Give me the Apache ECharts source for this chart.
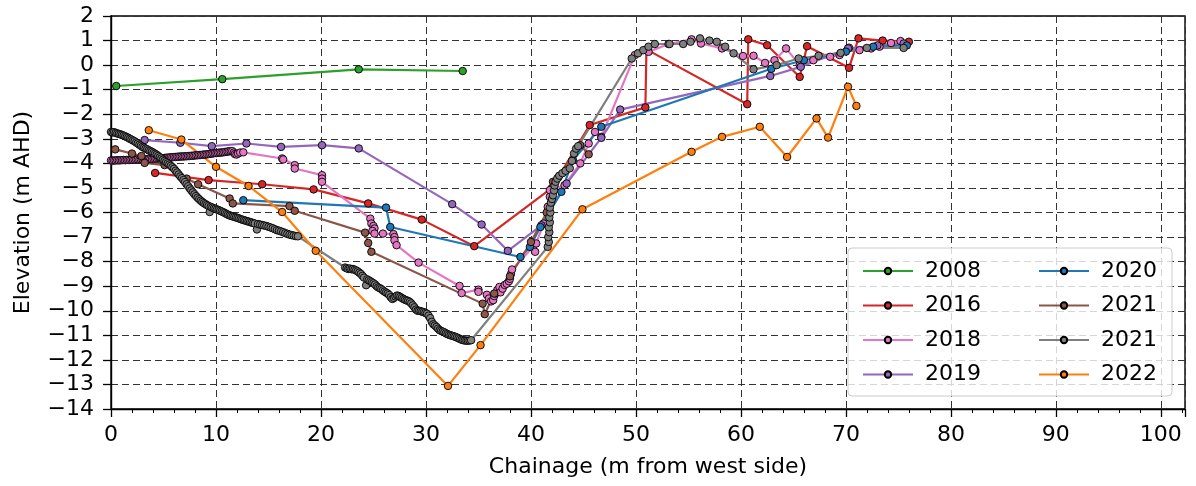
<!DOCTYPE html>
<html>
<head>
<meta charset="utf-8">
<script src="https://cdn.jsdelivr.net/npm/echarts@6/dist/echarts.min.js"></script>
<style>
  html, body { margin: 0; padding: 0; background: #fff; }
  #chart { width: 1196px; height: 486px; }
</style>
</head>
<body>
<div id="chart"></div>
<script>
// Cross-section surveys: [chainage (m from west side), elevation (m AHD)]
const survey2008 = [[0.5,-0.85],[10.6,-0.57],[23.6,-0.17],[33.5,-0.24]];

const survey2016 = [[4.2,-4.39],[9.3,-4.68],[14.4,-4.85],[19.3,-5.06],[24.5,-5.63],[29.6,-6.29],[34.6,-7.37],
  [42.0,-5.0],[45.6,-2.44],[50.9,-1.72],[51.0,0.64],[60.6,-1.59],[60.7,1.05],[62.5,0.81],[65.6,-0.48],
  [66.3,0.77],[70.3,-0.11],[71.2,1.09],[73.5,1.0],[76.0,0.95]];

const survey2018 = [[0.0,-3.88],[0.15,-3.89],[0.3,-3.88],[0.45,-3.88],[0.6,-3.87],[0.75,-3.88],[0.9,-3.87],
  [1.05,-3.87],[1.2,-3.86],[1.35,-3.87],[1.5,-3.86],[1.65,-3.86],[1.8,-3.86],[1.95,-3.85],[2.1,-3.86],
  [2.25,-3.85],[2.4,-3.85],[2.55,-3.84],[2.7,-3.85],[2.85,-3.84],[3.0,-3.84],[3.15,-3.83],[3.3,-3.84],
  [3.45,-3.83],[3.6,-3.83],[3.75,-3.82],[3.9,-3.83],[4.05,-3.82],[4.2,-3.81],[4.35,-3.81],[4.5,-3.8],
  [4.65,-3.8],[4.8,-3.79],[4.95,-3.79],[5.1,-3.78],[5.25,-3.77],[5.4,-3.77],[5.55,-3.76],[5.7,-3.75],
  [5.85,-3.75],[6.0,-3.74],[6.15,-3.74],[6.3,-3.73],[6.45,-3.73],[6.6,-3.72],[6.75,-3.72],[6.9,-3.72],
  [7.05,-3.71],[7.2,-3.71],[7.35,-3.7],[7.5,-3.7],[7.65,-3.69],[7.8,-3.69],[7.95,-3.68],[8.1,-3.67],
  [8.25,-3.67],[8.4,-3.66],[8.55,-3.66],[8.7,-3.65],[8.85,-3.64],[9.0,-3.64],[9.15,-3.63],[9.3,-3.62],
  [9.45,-3.61],[9.6,-3.6],[9.75,-3.59],[9.9,-3.58],[10.05,-3.58],[10.2,-3.57],[10.35,-3.56],[10.5,-3.56],
  [10.65,-3.55],[10.8,-3.54],[10.95,-3.53],[11.1,-3.52],[11.25,-3.51],[11.4,-3.5],[11.55,-3.5],[11.7,-3.56],
  [11.8,-3.62],[11.95,-3.64],[12.1,-3.6],[12.3,-3.56],[12.6,-3.55],
  [16.3,-3.8],[16.4,-3.84],[17.5,-4.07],[17.5,-4.21],[20.1,-4.48],[20.1,-4.62],[20.1,-4.75],
  [24.7,-6.25],[24.8,-6.45],[25.0,-6.55],[25.1,-6.65],[24.9,-6.75],[25.1,-6.86],[25.9,-6.86],[26.9,-6.88],
  [27.0,-7.0],[27.0,-7.13],[27.2,-7.33],[29.3,-8.04],[33.2,-8.99],[33.4,-9.28],[35.0,-9.14],[35.0,-9.23],
  [35.8,-9.35],[36.0,-9.5],[36.2,-9.62],[36.4,-9.57],[36.5,-9.4],[36.6,-9.3],[36.8,-9.15],[37.0,-9.03],
  [37.1,-9.25],[37.3,-9.1],[37.5,-8.95],[37.7,-8.9],[37.9,-8.8],[38.0,-8.7],[38.1,-8.5],[38.2,-8.32],
  [40.2,-7.4],[40.4,-7.6],[40.5,-7.26],[41.2,-6.45],[41.6,-5.77],[41.8,-5.36],[41.8,-5.09],[43.2,-4.89],
  [44.7,-4.0],[45.5,-3.19],[46.1,-2.72],[46.7,-2.92],[49.9,0.41],[51.2,0.54],[53.1,0.86],[55.3,1.05],
  [56.2,0.88],[58.2,0.68],[60.2,0.37],[61.2,0.38],[62.3,0.09],[63.2,0.2],[64.3,0.68],[65.6,0.0],[66.9,0.2],
  [68.5,0.34],[69.4,0.41],[70.3,0.71],[71.3,0.61],[72.4,0.68],[73.2,0.75],[74.3,0.9],[75.2,0.98]];

const survey2019 = [[3.2,-3.05],[6.6,-3.16],[9.6,-3.3],[12.9,-3.19],[16.2,-3.33],[20.1,-3.26],[23.6,-3.39],
  [32.5,-5.66],[35.3,-6.49],[37.8,-7.56],[41.0,-6.52],[43.4,-4.82],[46.7,-2.96],[48.5,-1.81],[62.8,-0.44],
  [65.7,-0.07],[70.2,0.68],[73.0,0.8],[75.5,0.88]];

const survey2020 = [[12.6,-5.5],[26.2,-5.8],[26.6,-6.59],[39.0,-7.81],[39.9,-7.4],[40.9,-6.59],[42.9,-5.16],
  [44.0,-3.87],[46.7,-2.51],[62.9,-0.15],[66.0,0.2],[70.0,0.55],[72.6,0.75],[75.8,0.8]];

const survey2021a = [[0.4,-3.43],[2.0,-3.6],[2.9,-3.7],[3.2,-3.98],[5.1,-4.07],[7.2,-4.62],[8.3,-4.85],
  [11.3,-5.43],[11.6,-5.63],[17.0,-5.74],[17.5,-5.93],[24.2,-6.82],[24.5,-7.24],[24.8,-7.6],[35.4,-9.71],
  [35.6,-10.14],[36.5,-9.3],[38.0,-8.6],[40.0,-7.2],[41.5,-6.0],[42.1,-4.75],[42.6,-4.57],[44.7,-3.26],[45.5,-3.63]];

const survey2021b = [[0.0,-2.72],[0.15,-2.74],[0.3,-2.73],[0.45,-2.76],[0.6,-2.78],[0.75,-2.8],[0.9,-2.82],
  [1.05,-2.84],[1.2,-2.87],[1.35,-2.9],[1.5,-2.93],[1.65,-2.96],[1.8,-3.0],[1.95,-3.03],[2.1,-3.07],[2.25,-3.1],
  [2.4,-3.15],[2.55,-3.19],[2.7,-3.24],[2.85,-3.28],[3.0,-3.33],[3.15,-3.36],[3.3,-3.4],[3.45,-3.43],[3.6,-3.47],
  [3.75,-3.5],[3.9,-3.53],[4.05,-3.57],[4.2,-3.61],[4.35,-3.65],[4.5,-3.7],[4.65,-3.75],[4.8,-3.8],[4.95,-3.85],
  [5.1,-3.9],[5.25,-3.95],[5.4,-4.0],[5.55,-4.05],[5.7,-4.1],[5.85,-4.16],[6.0,-4.22],[6.15,-4.3],[6.3,-4.37],
  [6.45,-4.45],[6.6,-4.53],[6.75,-4.6],[6.9,-4.68],[7.05,-4.76],[7.2,-4.85],[7.35,-4.93],[7.5,-5.02],[7.65,-5.1],
  [7.8,-5.18],[7.95,-5.26],[8.1,-5.33],[8.25,-5.4],[8.4,-5.46],[8.55,-5.52],[8.7,-5.57],[8.85,-5.62],[9.0,-5.66],
  [9.15,-5.7],[9.3,-5.74],[9.4,-5.98],[9.5,-5.77],[9.65,-5.8],[9.8,-5.83],[9.95,-5.85],[10.1,-5.88],[10.25,-5.9],
  [10.4,-5.93],[10.55,-5.96],[10.7,-5.99],[10.85,-6.02],[11.0,-6.06],[11.15,-6.09],[11.3,-6.12],[11.45,-6.14],
  [11.6,-6.16],[11.75,-6.18],[11.9,-6.2],[12.05,-6.22],[12.2,-6.24],[12.35,-6.27],[12.5,-6.29],[12.65,-6.31],
  [12.8,-6.33],[12.95,-6.35],[13.1,-6.37],[13.25,-6.39],[13.4,-6.41],[13.55,-6.43],[13.7,-6.45],[13.9,-6.69],
  [14.0,-6.47],[14.2,-6.49],[14.4,-6.51],[14.6,-6.53],[14.8,-6.55],[15.0,-6.58],[15.2,-6.61],[15.4,-6.64],
  [15.6,-6.68],[15.8,-6.72],[16.0,-6.74],[16.2,-6.77],[16.4,-6.8],[16.6,-6.84],[16.8,-6.87],[17.0,-6.9],
  [17.2,-6.92],[17.4,-6.94],[17.6,-6.96],[17.8,-6.97],
  [22.3,-8.24],[22.45,-8.27],[22.6,-8.3],[22.75,-8.28],[22.9,-8.31],[23.05,-8.3],[23.2,-8.33],[23.35,-8.36],
  [23.5,-8.4],[23.65,-8.45],[23.8,-8.5],[23.95,-8.58],[24.1,-8.65],[24.3,-8.96],[24.4,-8.72],[24.55,-8.76],
  [24.7,-8.8],[24.85,-8.84],[25.0,-8.88],[25.15,-8.93],[25.3,-9.0],[25.45,-9.05],[25.6,-9.08],[25.75,-9.12],
  [25.9,-9.17],[26.05,-9.22],[26.2,-9.26],[26.35,-9.3],[26.5,-9.36],[26.65,-9.45],[26.8,-9.52],[26.95,-9.48],
  [27.1,-9.42],[27.25,-9.38],[27.4,-9.4],[27.55,-9.44],[27.7,-9.48],[27.85,-9.52],[28.0,-9.55],[28.15,-9.58],
  [28.3,-9.6],[28.45,-9.64],[28.6,-9.7],[28.75,-9.78],[28.9,-9.86],[29.05,-9.95],[29.2,-10.0],[29.35,-10.0],
  [29.5,-10.02],[29.65,-10.04],[29.8,-10.06],[29.95,-10.09],[30.1,-10.12],[30.25,-10.2],[30.4,-10.3],
  [30.55,-10.45],[30.7,-10.55],[30.85,-10.6],[31.0,-10.66],[31.15,-10.73],[31.3,-10.79],[31.45,-10.82],
  [31.6,-10.85],[31.75,-10.88],[31.9,-10.92],[32.05,-10.95],[32.2,-10.98],[32.35,-11.0],[32.5,-11.02],
  [32.65,-11.04],[32.8,-11.06],[32.95,-11.09],[33.1,-11.12],[33.25,-11.15],[33.4,-11.18],[33.55,-11.2],
  [33.7,-11.21],[33.85,-11.22],[34.0,-11.22],[34.15,-11.21],[34.3,-11.2],
  [41.6,-7.4],[41.7,-7.2],[41.65,-7.0],[41.75,-6.8],[41.7,-6.6],[41.8,-6.4],[41.75,-6.2],[41.85,-6.0],
  [41.8,-5.8],[41.9,-5.6],[42.0,-5.45],[42.1,-5.3],[42.2,-5.1],[42.25,-4.9],[42.35,-4.75],[42.5,-4.62],
  [42.7,-4.5],[43.0,-4.4],[43.3,-4.3],[43.7,-4.2],[43.9,-3.9],[44.1,-3.6],[44.3,-3.4],[44.5,-3.3],
  [49.6,0.27],[50.2,0.48],[50.7,0.61],[51.2,0.75],[51.8,0.86],[53.2,0.86],[54.5,0.86],[55.2,0.95],[56.1,1.09],
  [57.0,1.0],[57.7,0.95],[58.5,0.75],[59.3,0.48],[61.2,-0.17],[63.4,0.0],[65.5,0.27],[67.4,0.38],[69.5,0.5],
  [72.0,0.7],[75.5,0.7]];

const survey2022 = [[3.6,-2.65],[6.7,-3.03],[10.0,-4.14],[13.1,-4.92],[16.3,-5.98],[19.5,-7.56],[32.1,-13.06],
  [35.2,-11.4],[44.9,-5.87],[55.3,-3.53],[58.2,-2.92],[61.8,-2.51],[64.4,-3.74],[67.2,-2.17],[68.3,-2.95],
  [70.2,-0.88],[71.0,-1.66]];

// Legend entries (second "2021" carries a trailing space so it stays a separate entry)
const legendLeft = ['2008', '2016', '2018', '2019'];
const legendRight = ['2020', '2021', '2021 ', '2022'];

const FONT = 'DejaVu Sans';

function surveySeries(name, data, color) {
  return {
    name: name,
    type: 'line',
    data: data,
    symbol: 'circle',
    symbolSize: 7.5,
    showAllSymbol: true,
    color: color,
    lineStyle: { color: color, width: 2.2 },
    itemStyle: { color: color, borderColor: '#000', borderWidth: 0.9 },
    emphasis: { disabled: true },
    animation: false
  };
}

const chart = echarts.init(document.getElementById('chart'), null, { renderer: 'canvas' });

const gridLine = { show: true, lineStyle: { color: '#333', width: 1, type: [7, 4] } };
const minus = v => (v < 0 ? '\u2212' + Math.abs(v) : String(v));

const legendCommon = {
  orient: 'vertical',
  top: 255,
  itemWidth: 50,
  itemHeight: 8,
  itemGap: 12.5,
  z: 6,
  formatter: name => ' ' + name.trim(),
  textStyle: { fontFamily: FONT, fontSize: 22, color: '#000' },
  selectedMode: false
};

chart.setOption({
  animation: false,
  backgroundColor: '#fff',
  grid: {
    left: 111, right: 11, top: 16, bottom: 77,
    show: true, borderColor: '#000', borderWidth: 1.4, backgroundColor: 'transparent'
  },
  xAxis: {
    type: 'value',
    min: 0, max: 102.3, interval: 10,
    name: 'Chainage (m from west side)',
    nameLocation: 'middle',
    nameGap: 47,
    nameTextStyle: { fontFamily: FONT, fontSize: 22, color: '#000' },
    axisLine: { show: true, onZero: false, lineStyle: { color: '#000', width: 1.4 } },
    axisTick: { show: true, length: 8, lineStyle: { color: '#000', width: 1.3 } },
    minorTick: { show: true, splitNumber: 5, length: 4, lineStyle: { color: '#000', width: 1 } },
    axisLabel: {
      margin: 15, fontFamily: FONT, fontSize: 22, color: '#000',
      formatter: v => (Math.abs(v % 10) < 1e-6 ? String(v) : '')
    },
    splitLine: gridLine
  },
  yAxis: {
    type: 'value',
    min: -14, max: 2, interval: 1,
    name: 'Elevation (m AHD)',
    nameLocation: 'middle',
    nameGap: 77,
    nameTextStyle: { fontFamily: FONT, fontSize: 22, color: '#000' },
    axisLine: { show: true, onZero: false, lineStyle: { color: '#000', width: 1.4 } },
    axisTick: { show: true, length: 8, lineStyle: { color: '#000', width: 1.3 } },
    axisLabel: { margin: 17, fontFamily: FONT, fontSize: 22, color: '#000', formatter: minus },
    splitLine: gridLine
  },
  legend: [
    Object.assign({}, legendCommon, { left: 857, data: legendLeft }),
    Object.assign({}, legendCommon, { left: 1033, data: legendRight })
  ],
  graphic: [{
    type: 'rect',
    z: 5,
    shape: { x: 848, y: 248, width: 324, height: 148, r: 4 },
    style: { fill: 'rgba(255,255,255,0.8)', stroke: '#cccccc', lineWidth: 1 }
  }],
  series: [
    surveySeries('2008', survey2008, '#2ca02c'),
    surveySeries('2016', survey2016, '#d62728'),
    surveySeries('2018', survey2018, '#e377c2'),
    surveySeries('2019', survey2019, '#9467bd'),
    surveySeries('2020', survey2020, '#1f77b4'),
    surveySeries('2021', survey2021a, '#8c564b'),
    surveySeries('2021 ', survey2021b, '#7f7f7f'),
    surveySeries('2022', survey2022, '#ff7f0e')
  ]
});
</script>
</body>
</html>
